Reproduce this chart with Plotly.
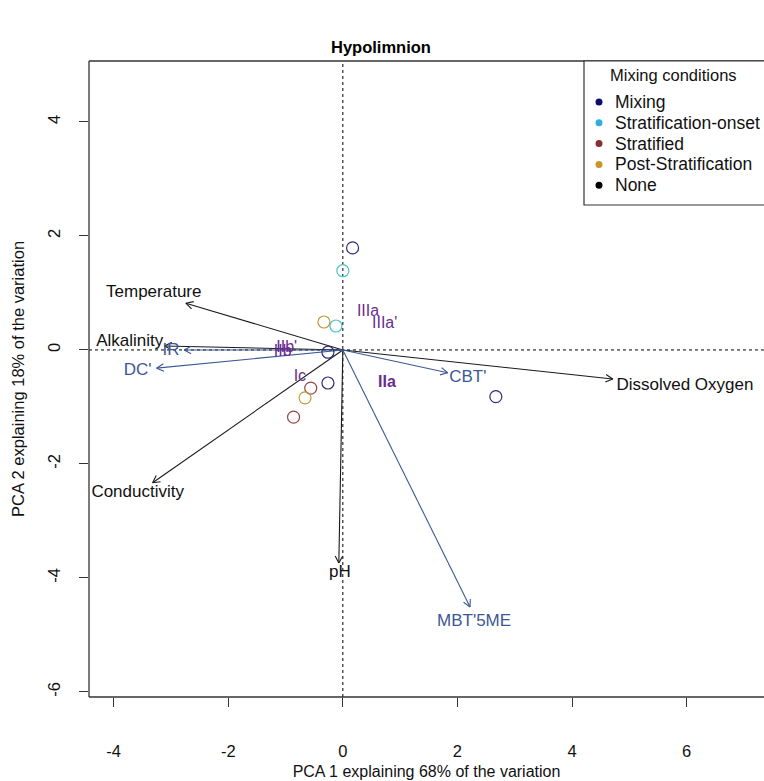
import plotly.graph_objects as go
import numpy as np

# ---------------- data ----------------
# sample scores by mixing condition
mix_x = [0.17, -0.26, -0.26, 2.67]
mix_y = [1.79, -0.04, -0.58, -0.82]
onset_x = [0.00, -0.12]
onset_y = [1.39, 0.42]
strat_x = [-0.56, -0.86]
strat_y = [-0.67, -1.18]
post_x = [-0.33, -0.66]
post_y = [0.49, -0.84]
none_x = []
none_y = []

group_names = ["Mixing", "Stratification-onset", "Stratified", "Post-Stratification", "None"]
group_dot_colors = ["#0c0c6e", "#2aaee4", "#8a2e2e", "#c8952b", "#000000"]
group_ring_colors = ["#2e2e72", "#4cc3c9", "#9a4545", "#c39a38", "#000000"]

# environmental vectors
env_names = ["Temperature", "Alkalinity", "Conductivity", "pH", "Dissolved Oxygen"]
env_x = [-2.74, -3.11, -3.32, -0.07, 4.71]
env_y = [0.82, 0.07, -2.33, -3.74, -0.51]
env_lx = [-3.30, -3.72, -3.58, -0.05, 5.97]
env_ly = [1.00, 0.14, -2.51, -3.91, -0.63]

# GDGT index vectors
idx_names = ["IR", "DC'", "CBT'", "MBT'5ME"]
idx_x = [-2.77, -3.25, 1.83, 2.22]
idx_y = [0.00, -0.32, -0.40, -4.51]
idx_lx = [-3.00, -3.58, 2.18, 2.29]
idx_ly = [-0.02, -0.37, -0.49, -4.77]

# GDGT compound scores (text only)
gdgt_names = ["IIIa", "IIIa'", "<b>IIa</b>", "Ic", "IIb", "IIb'"]
gdgt_x = [0.44, 0.73, 0.77, -0.75, -1.05, -0.98]
gdgt_y = [0.67, 0.46, -0.58, -0.47, -0.04, 0.04]

x_ticks = [-4, -2, 0, 2, 4, 6]
y_ticks = [-6, -4, -2, 0, 2, 4]

# ---------------- layout geometry ----------------
W, H = 764, 781
ML, MR, MT, MB = 89, 0, 61, 84
PW, PH = W - ML - MR, H - MT - MB
XR = [-4.43, 7.35]
YR = [-6.09, 5.07]
ppx = PW / (XR[1] - XR[0])
ppy = PH / (YR[1] - YR[0])

FONT = "Liberation Sans, Arial, sans-serif"
ENV_COL = "#1a1a1a"
IDX_COL = "#3d5895"
GDGT_COL = "#6a2d8e"


def px2paper_x(px):
    return (px - ML) / PW


def px2paper_y(py):
    return 1 - (py - MT) / PH


def arrow_paths(xs, ys, head_px=8, ang_deg=28):
    px, py = [], []
    a = np.deg2rad(ang_deg)
    for tx, ty in zip(xs, ys):
        px += [0, tx, None]
        py += [0, ty, None]
        dx, dy = tx * ppx, ty * ppy
        n = np.hypot(dx, dy)
        ux, uy = dx / n, dy / n
        for s in (a, -a):
            rx = ux * np.cos(s) - uy * np.sin(s)
            ry = ux * np.sin(s) + uy * np.cos(s)
            hx = tx - head_px * rx / ppx
            hy = ty - head_px * ry / ppy
            px += [tx, hx, None]
            py += [ty, hy, None]
    return px, py


fig = go.Figure()

# arrows
ex, ey = arrow_paths(env_x, env_y)
fig.add_trace(go.Scatter(x=ex, y=ey, mode="lines", line=dict(color=ENV_COL, width=1.1),
                         showlegend=False, hoverinfo="skip"))
ix, iy = arrow_paths(idx_x, idx_y)
fig.add_trace(go.Scatter(x=ix, y=iy, mode="lines", line=dict(color=IDX_COL, width=1.1),
                         showlegend=False, hoverinfo="skip"))

# sample points (open circles)
groups_xy = [(mix_x, mix_y), (onset_x, onset_y), (strat_x, strat_y), (post_x, post_y), (none_x, none_y)]
for (gx, gy), name, rc in zip(groups_xy, group_names, group_ring_colors):
    if len(gx):
        fig.add_trace(go.Scatter(x=gx, y=gy, mode="markers", name=name, showlegend=False,
                                 marker=dict(symbol="circle-open", size=12, color=rc,
                                             line=dict(width=1.2, color=rc))))

# text labels
fig.add_trace(go.Scatter(x=env_lx, y=env_ly, mode="text", text=env_names, showlegend=False,
                         textfont=dict(family=FONT, size=17, color="#111111"), hoverinfo="skip"))
fig.add_trace(go.Scatter(x=idx_lx, y=idx_ly, mode="text", text=idx_names, showlegend=False,
                         textfont=dict(family=FONT, size=17, color=IDX_COL), hoverinfo="skip"))
fig.add_trace(go.Scatter(x=gdgt_x, y=gdgt_y, mode="text", text=gdgt_names, showlegend=False,
                         textfont=dict(family=FONT, size=16, color=GDGT_COL), hoverinfo="skip"))

# dotted zero lines
fig.add_shape(type="line", xref="x", yref="paper", x0=0, x1=0, y0=0, y1=1,
              line=dict(color="black", width=1, dash="dot"), layer="below")
fig.add_shape(type="line", xref="paper", yref="y", x0=0, x1=1, y0=0, y1=0,
              line=dict(color="black", width=1, dash="dot"), layer="below")
# plot box (left, top, bottom)
for x0, y0, x1, y1 in [(0, 0, 0, 1), (0, 1, 1, 1), (0, 0, 1, 0)]:
    fig.add_shape(type="line", xref="paper", yref="paper", x0=x0, y0=y0, x1=x1, y1=y1,
                  line=dict(color="#333333", width=1.3))

# ---------------- legend (drawn like R's legend box) ----------------
LEG_L, LEG_T, LEG_B = 584, 61, 205
fig.add_shape(type="rect", xref="paper", yref="paper",
              x0=px2paper_x(LEG_L), x1=px2paper_x(W + 5), y0=px2paper_y(LEG_B), y1=px2paper_y(LEG_T),
              line=dict(color="#333333", width=1.2), fillcolor="white", layer="above")
fig.add_annotation(xref="paper", yref="paper", x=px2paper_x(673), y=px2paper_y(75),
                   text="Mixing conditions", showarrow=False, xanchor="center", yanchor="middle",
                   font=dict(family=FONT, size=16.5, color="#111111"))
item_y0, item_dy = 102, 20.8
for i, (name, dc) in enumerate(zip(group_names, group_dot_colors)):
    yy = px2paper_y(item_y0 + i * item_dy)
    fig.add_shape(type="circle", xref="paper", yref="paper", xsizemode="pixel", ysizemode="pixel",
                  xanchor=px2paper_x(599), yanchor=yy, x0=-3.5, x1=3.5, y0=-3.5, y1=3.5,
                  fillcolor=dc, line=dict(color=dc, width=0), layer="above")
    fig.add_annotation(xref="paper", yref="paper", x=px2paper_x(613), y=yy, text=name,
                       showarrow=False, xanchor="left", yanchor="middle",
                       font=dict(family=FONT, size=17.5, color="#111111"))

fig.update_layout(
    width=W, height=H,
    margin=dict(l=ML, r=MR, t=MT, b=MB),
    paper_bgcolor="white", plot_bgcolor="white",
    font=dict(family=FONT, color="black"),
    showlegend=False,
    title=dict(text="<b>Hypolimnion</b>", x=381 / W, xanchor="center", y=1 - 47 / H, yanchor="middle",
               font=dict(family=FONT, size=16.5, color="black")),
    xaxis=dict(range=XR, tickvals=x_ticks, ticktext=[str(v) for v in x_ticks], showgrid=False,
               zeroline=False, showline=False, ticks="outside", ticklen=9, tickcolor="#333333",
               tickfont=dict(family=FONT, size=16.5, color="#111111"), ticklabelstandoff=30,
               title=dict(text="PCA 1 explaining 68% of the variation", standoff=7,
                          font=dict(family=FONT, size=16, color="#111111"))),
    yaxis=dict(range=YR, tickvals=y_ticks, ticktext=[str(v) for v in y_ticks], showgrid=False,
               zeroline=False, showline=False, ticks="outside", ticklen=9, tickcolor="#333333",
               tickangle=-90, tickfont=dict(family=FONT, size=16.5, color="#111111"),
               ticklabelstandoff=12,
               title=dict(text="PCA 2 explaining 18% of the variation", standoff=16,
                          font=dict(family=FONT, size=16.5, color="#111111"))),
)

fig.write_html("out.html")
